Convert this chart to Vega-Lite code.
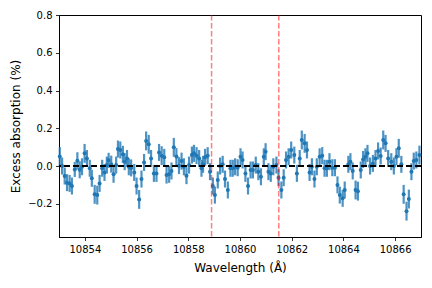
{
  "$schema": "https://vega.github.io/schema/vega-lite/v6.json",
  "width": 362,
  "height": 222,
  "autosize": "none",
  "padding": {"left": 59, "top": 15, "right": 11, "bottom": 51},
  "background": "white",
  "config": {
    "font": "DejaVu Sans",
    "view": {"stroke": "black", "strokeWidth": 1},
    "axis": {
      "grid": false,
      "domainColor": "black",
      "domainWidth": 1,
      "tickColor": "black",
      "tickWidth": 0.8,
      "tickSize": 3.5,
      "labelFont": "DejaVu Sans",
      "labelFontSize": 10,
      "labelColor": "black",
      "labelPadding": 3.5,
      "titleFont": "DejaVu Sans",
      "titleFontSize": 12,
      "titleFontWeight": "normal",
      "titleColor": "black"
    }
  },
  "datasets": {
    "spec": [
      {"w": 10853.03, "v": 0.05, "e": 0.05},
      {"w": 10853.12, "v": 0.0, "e": 0.045},
      {"w": 10853.22, "v": -0.053, "e": 0.045},
      {"w": 10853.31, "v": -0.088, "e": 0.045},
      {"w": 10853.41, "v": -0.092, "e": 0.045},
      {"w": 10853.50, "v": -0.106, "e": 0.045},
      {"w": 10853.61, "v": -0.018, "e": 0.04},
      {"w": 10853.71, "v": 0.028, "e": 0.045},
      {"w": 10853.80, "v": -0.02, "e": 0.045},
      {"w": 10853.89, "v": -0.004, "e": 0.045},
      {"w": 10853.99, "v": 0.067, "e": 0.05},
      {"w": 10854.08, "v": 0.04, "e": 0.045},
      {"w": 10854.19, "v": -0.012, "e": 0.045},
      {"w": 10854.27, "v": -0.065, "e": 0.045},
      {"w": 10854.38, "v": -0.15, "e": 0.05},
      {"w": 10854.48, "v": -0.154, "e": 0.05},
      {"w": 10854.57, "v": -0.092, "e": 0.045},
      {"w": 10854.67, "v": -0.012, "e": 0.045},
      {"w": 10854.76, "v": -0.034, "e": 0.045},
      {"w": 10854.85, "v": 0.005, "e": 0.045},
      {"w": 10854.92, "v": 0.03, "e": 0.04},
      {"w": 10855.02, "v": 0.01, "e": 0.045},
      {"w": 10855.11, "v": -0.044, "e": 0.045},
      {"w": 10855.21, "v": 0.005, "e": 0.045},
      {"w": 10855.28, "v": 0.09, "e": 0.045},
      {"w": 10855.37, "v": 0.085, "e": 0.045},
      {"w": 10855.47, "v": 0.062, "e": 0.045},
      {"w": 10855.54, "v": 0.023, "e": 0.045},
      {"w": 10855.63, "v": 0.04, "e": 0.045},
      {"w": 10855.70, "v": -0.004, "e": 0.045},
      {"w": 10855.79, "v": -0.01, "e": 0.045},
      {"w": 10855.91, "v": -0.034, "e": 0.045},
      {"w": 10856.00, "v": -0.106, "e": 0.045},
      {"w": 10856.10, "v": -0.177, "e": 0.05},
      {"w": 10856.19, "v": -0.069, "e": 0.045},
      {"w": 10856.29, "v": 0.019, "e": 0.045},
      {"w": 10856.37, "v": 0.133, "e": 0.05},
      {"w": 10856.47, "v": 0.115, "e": 0.05},
      {"w": 10856.56, "v": 0.04, "e": 0.045},
      {"w": 10856.67, "v": -0.039, "e": 0.045},
      {"w": 10856.77, "v": -0.039, "e": 0.045},
      {"w": 10856.87, "v": 0.072, "e": 0.045},
      {"w": 10856.97, "v": 0.055, "e": 0.05},
      {"w": 10857.07, "v": 0.046, "e": 0.045},
      {"w": 10857.16, "v": -0.048, "e": 0.045},
      {"w": 10857.26, "v": -0.044, "e": 0.045},
      {"w": 10857.35, "v": -0.026, "e": 0.045},
      {"w": 10857.44, "v": 0.099, "e": 0.05},
      {"w": 10857.54, "v": 0.05, "e": 0.045},
      {"w": 10857.64, "v": 0.002, "e": 0.045},
      {"w": 10857.74, "v": 0.026, "e": 0.045},
      {"w": 10857.83, "v": -0.004, "e": 0.045},
      {"w": 10857.93, "v": -0.051, "e": 0.045},
      {"w": 10858.03, "v": 0.005, "e": 0.045},
      {"w": 10858.14, "v": 0.058, "e": 0.045},
      {"w": 10858.22, "v": 0.067, "e": 0.045},
      {"w": 10858.32, "v": 0.055, "e": 0.045},
      {"w": 10858.42, "v": 0.04, "e": 0.045},
      {"w": 10858.51, "v": -0.012, "e": 0.045},
      {"w": 10858.57, "v": 0.009, "e": 0.045},
      {"w": 10858.65, "v": 0.046, "e": 0.045},
      {"w": 10858.75, "v": 0.055, "e": 0.045},
      {"w": 10858.84, "v": -0.03, "e": 0.045},
      {"w": 10858.95, "v": -0.106, "e": 0.045},
      {"w": 10859.03, "v": -0.154, "e": 0.045},
      {"w": 10859.14, "v": -0.074, "e": 0.045},
      {"w": 10859.23, "v": 0.0, "e": 0.045},
      {"w": 10859.33, "v": 0.009, "e": 0.045},
      {"w": 10859.42, "v": -0.069, "e": 0.045},
      {"w": 10859.53, "v": -0.127, "e": 0.045},
      {"w": 10859.63, "v": -0.012, "e": 0.045},
      {"w": 10859.72, "v": -0.012, "e": 0.045},
      {"w": 10859.81, "v": -0.004, "e": 0.045},
      {"w": 10859.91, "v": -0.009, "e": 0.045},
      {"w": 10860.02, "v": 0.049, "e": 0.045},
      {"w": 10860.10, "v": 0.032, "e": 0.045},
      {"w": 10860.21, "v": -0.039, "e": 0.045},
      {"w": 10860.31, "v": -0.106, "e": 0.045},
      {"w": 10860.41, "v": -0.021, "e": 0.045},
      {"w": 10860.50, "v": -0.021, "e": 0.045},
      {"w": 10860.61, "v": 0.005, "e": 0.045},
      {"w": 10860.71, "v": -0.03, "e": 0.045},
      {"w": 10860.81, "v": -0.057, "e": 0.045},
      {"w": 10860.92, "v": 0.049, "e": 0.045},
      {"w": 10860.99, "v": 0.076, "e": 0.045},
      {"w": 10861.10, "v": -0.03, "e": 0.045},
      {"w": 10861.19, "v": -0.039, "e": 0.045},
      {"w": 10861.29, "v": -0.004, "e": 0.045},
      {"w": 10861.41, "v": 0.005, "e": 0.045},
      {"w": 10861.49, "v": -0.062, "e": 0.045},
      {"w": 10861.60, "v": -0.127, "e": 0.045},
      {"w": 10861.69, "v": -0.062, "e": 0.045},
      {"w": 10861.78, "v": 0.032, "e": 0.045},
      {"w": 10861.88, "v": 0.049, "e": 0.045},
      {"w": 10861.98, "v": 0.085, "e": 0.045},
      {"w": 10862.10, "v": 0.058, "e": 0.045},
      {"w": 10862.20, "v": -0.039, "e": 0.045},
      {"w": 10862.31, "v": 0.04, "e": 0.045},
      {"w": 10862.39, "v": 0.138, "e": 0.05},
      {"w": 10862.50, "v": 0.12, "e": 0.05},
      {"w": 10862.59, "v": 0.085, "e": 0.045},
      {"w": 10862.69, "v": -0.034, "e": 0.045},
      {"w": 10862.78, "v": -0.004, "e": 0.045},
      {"w": 10862.88, "v": -0.069, "e": 0.045},
      {"w": 10862.97, "v": -0.004, "e": 0.045},
      {"w": 10863.08, "v": 0.049, "e": 0.045},
      {"w": 10863.18, "v": 0.055, "e": 0.045},
      {"w": 10863.27, "v": -0.012, "e": 0.045},
      {"w": 10863.36, "v": -0.012, "e": 0.045},
      {"w": 10863.46, "v": 0.023, "e": 0.045},
      {"w": 10863.57, "v": -0.009, "e": 0.045},
      {"w": 10863.67, "v": -0.009, "e": 0.045},
      {"w": 10863.77, "v": -0.1, "e": 0.045},
      {"w": 10863.86, "v": -0.154, "e": 0.045},
      {"w": 10863.97, "v": -0.171, "e": 0.045},
      {"w": 10864.05, "v": -0.127, "e": 0.045},
      {"w": 10864.19, "v": 0.009, "e": 0.045},
      {"w": 10864.27, "v": 0.023, "e": 0.045},
      {"w": 10864.36, "v": -0.026, "e": 0.045},
      {"w": 10864.47, "v": -0.127, "e": 0.05},
      {"w": 10864.56, "v": -0.133, "e": 0.05},
      {"w": 10864.67, "v": -0.021, "e": 0.045},
      {"w": 10864.76, "v": 0.035, "e": 0.045},
      {"w": 10864.85, "v": 0.049, "e": 0.045},
      {"w": 10864.93, "v": 0.067, "e": 0.045},
      {"w": 10865.03, "v": 0.0, "e": 0.045},
      {"w": 10865.14, "v": 0.014, "e": 0.045},
      {"w": 10865.24, "v": 0.04, "e": 0.045},
      {"w": 10865.34, "v": 0.08, "e": 0.045},
      {"w": 10865.44, "v": 0.053, "e": 0.045},
      {"w": 10865.54, "v": 0.138, "e": 0.05},
      {"w": 10865.63, "v": 0.12, "e": 0.045},
      {"w": 10865.73, "v": 0.04, "e": 0.045},
      {"w": 10865.85, "v": 0.023, "e": 0.045},
      {"w": 10865.95, "v": 0.0, "e": 0.045},
      {"w": 10866.05, "v": 0.049, "e": 0.045},
      {"w": 10866.14, "v": 0.094, "e": 0.05},
      {"w": 10866.24, "v": 0.009, "e": 0.045},
      {"w": 10866.33, "v": -0.15, "e": 0.05},
      {"w": 10866.44, "v": -0.239, "e": 0.05},
      {"w": 10866.53, "v": -0.175, "e": 0.05},
      {"w": 10866.63, "v": -0.03, "e": 0.045},
      {"w": 10866.72, "v": 0.026, "e": 0.045},
      {"w": 10866.82, "v": 0.032, "e": 0.045},
      {"w": 10866.94, "v": 0.058, "e": 0.05}
    ],
    "lines": [{"lam": 10858.9}, {"lam": 10861.5}],
    "zero": [{"y0": 0}]
  },
  "layer": [
    {
      "data": {"name": "spec"},
      "mark": {"type": "errorbar", "ticks": false, "thickness": 2.2, "color": "#1f77b4", "opacity": 0.8},
      "encoding": {
        "x": {
          "field": "w", "type": "quantitative",
          "scale": {"domain": [10853, 10867], "nice": false, "zero": false},
          "axis": {"values": [10854, 10856, 10858, 10860, 10862, 10864, 10866], "format": "d", "title": "Wavelength (Å)", "titlePadding": 8}
        },
        "y": {
          "field": "v", "type": "quantitative",
          "scale": {"domain": [-0.376, 0.8], "nice": false, "zero": false},
          "axis": {"values": [-0.2, 0, 0.2, 0.4, 0.6, 0.8], "format": ".1f", "title": "Excess absorption (%)", "titlePadding": 5}
        },
        "yError": {"field": "e"}
      }
    },
    {
      "data": {"name": "spec"},
      "mark": {"type": "point", "filled": true, "size": 16, "color": "#1f77b4", "opacity": 1},
      "encoding": {
        "x": {"field": "w", "type": "quantitative"},
        "y": {"field": "v", "type": "quantitative"}
      }
    },
    {
      "data": {"name": "lines"},
      "mark": {"type": "rule", "color": "red", "opacity": 0.5, "strokeWidth": 1.5, "strokeDash": [5.5, 2.5]},
      "encoding": {"x": {"field": "lam", "type": "quantitative"}}
    },
    {
      "data": {"name": "zero"},
      "mark": {"type": "rule", "color": "black", "strokeWidth": 1.8, "strokeDash": [6, 3]},
      "encoding": {"y": {"field": "y0", "type": "quantitative"}}
    }
  ]
}
